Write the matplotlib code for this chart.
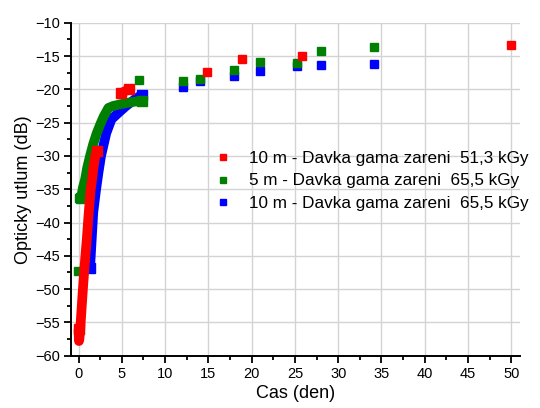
import matplotlib
matplotlib.use("Agg")
import matplotlib.pyplot as plt
from matplotlib.lines import Line2D
from matplotlib.ticker import MultipleLocator

plt.rcParams['font.family'] = ['Liberation Sans', 'DejaVu Sans']

# ---- data ----
labels = ["10 m - Davka gama zareni  51,3 kGy",
          "5 m - Davka gama zareni  65,5 kGy",
          "10 m - Davka gama zareni  65,5 kGy"]
colors = ["#ff0000", "#008000", "#0000ff"]

# red series (51,3 kGy, 10 m)
red_dense_x = [0.0, 0.05, 0.1, 0.2, 0.3, 0.4, 0.5, 0.7, 0.95, 1.15, 1.4, 1.52, 1.7, 1.9, 2.1]
red_dense_y = [-56.0, -57.8, -57.5, -56.0, -54.0, -52.0, -50.1, -46.5, -42.6, -39.0, -35.1, -34.0, -32.0, -30.3, -29.2]
red_mid_x = [4.95, 5.2, 5.5, 5.8]
red_mid_y = [-20.6, -20.4, -20.2, -20.0]
red_x = [14.85, 18.9, 25.8, 50.0]
red_y = [-17.4, -15.5, -15.0, -13.4]

# green series (65,5 kGy, 5 m)
green_dense_x = [0.3, 0.5, 0.75, 1.0, 1.33, 1.7, 2.1, 2.5, 2.9, 3.45, 4.0, 5.0, 6.0, 7.3]
green_dense_y = [-36.3, -34.8, -33.6, -31.8, -30.0, -28.2, -26.6, -25.3, -24.1, -22.8, -22.5, -22.2, -21.95, -21.7]
green_x = [-0.02, 0.05, 7.0, 12.1, 14.0, 18.0, 21.0, 25.2, 28.0, 34.1]
green_y = [-47.3, -36.3, -18.6, -18.7, -18.45, -17.05, -15.95, -16.0, -14.25, -13.6]

# blue series (65,5 kGy, 10 m)
blue_dense_x = [1.33, 1.5, 1.7, 2.0, 2.3, 2.6, 3.2, 3.8, 4.8, 5.5, 6.5, 7.3]
blue_dense_y = [-46.8, -43.0, -38.5, -35.3, -32.5, -30.0, -26.6, -24.5, -23.3, -22.5, -21.5, -20.85]
blue_x = [12.1, 14.0, 18.0, 21.0, 25.2, 28.0, 34.1]
blue_y = [-19.7, -18.8, -18.0, -17.2, -16.45, -16.4, -16.15]

x_ticks = [0, 5, 10, 15, 20, 25, 30, 35, 40, 45, 50]
y_ticks = [-60, -55, -50, -45, -40, -35, -30, -25, -20, -15, -10]

# ---- figure ----
fig = plt.figure(figsize=(5.4, 4.08), dpi=100)
ax = fig.add_axes([71/540, (408-355.7)/408, (520-71)/540, (355.7-22.7)/408])

ms = 5.5
lw = 7.0
dense_kw = dict(lw=lw, solid_capstyle='butt', solid_joinstyle='round',
                marker='s', ms=7.0, markevery=[0, -1])
# blue first (underneath), then green, then red
ax.plot(blue_dense_x, blue_dense_y, '-', color=colors[2], zorder=3, **dense_kw)
ax.plot(blue_x, blue_y, 's', color=colors[2], ms=ms, zorder=3)
ax.plot(green_dense_x, green_dense_y, '-', color=colors[1], zorder=4, **dense_kw)
ax.plot(green_x, green_y, 's', color=colors[1], ms=ms, zorder=4)
ax.plot(red_dense_x, red_dense_y, '-', color=colors[0], zorder=5, **dense_kw)
ax.plot(red_mid_x, red_mid_y, '-', color=colors[0], zorder=5, **dense_kw)
ax.plot(red_x, red_y, 's', color=colors[0], ms=ms, zorder=5)

ax.set_xlim(-0.87, 51.0)
ax.set_ylim(-60, -10)
ax.set_xticks(x_ticks)
ax.set_yticks(y_ticks)
ax.xaxis.set_minor_locator(MultipleLocator(2.5))
ax.yaxis.set_minor_locator(MultipleLocator(2.5))
ax.grid(True, which='major', color='#d3d3d3', lw=1.0)
ax.set_axisbelow(True)
for s in ['top', 'right']:
    ax.spines[s].set_visible(False)
for s in ['left', 'bottom']:
    ax.spines[s].set_linewidth(1.4)
ax.tick_params(which='major', direction='out', length=5, width=1.3, labelsize=10.5, pad=3)
ax.tick_params(which='minor', direction='out', length=3, width=1.3)
ax.set_xlabel("Cas (den)", fontsize=13, labelpad=3)
ax.set_ylabel("Opticky utlum (dB)", fontsize=13, labelpad=2)

handles = [Line2D([], [], marker='s', ls='none', color=c, ms=4.5) for c in colors]
ax.legend(handles, labels, loc='center left', bbox_to_anchor=(199/540, 1-181/408),
          bbox_transform=fig.transFigure, frameon=False, fontsize=12.3,
          handlelength=1.0, handletextpad=1.0, labelspacing=0.42)

fig.savefig("out.png", dpi=100)
